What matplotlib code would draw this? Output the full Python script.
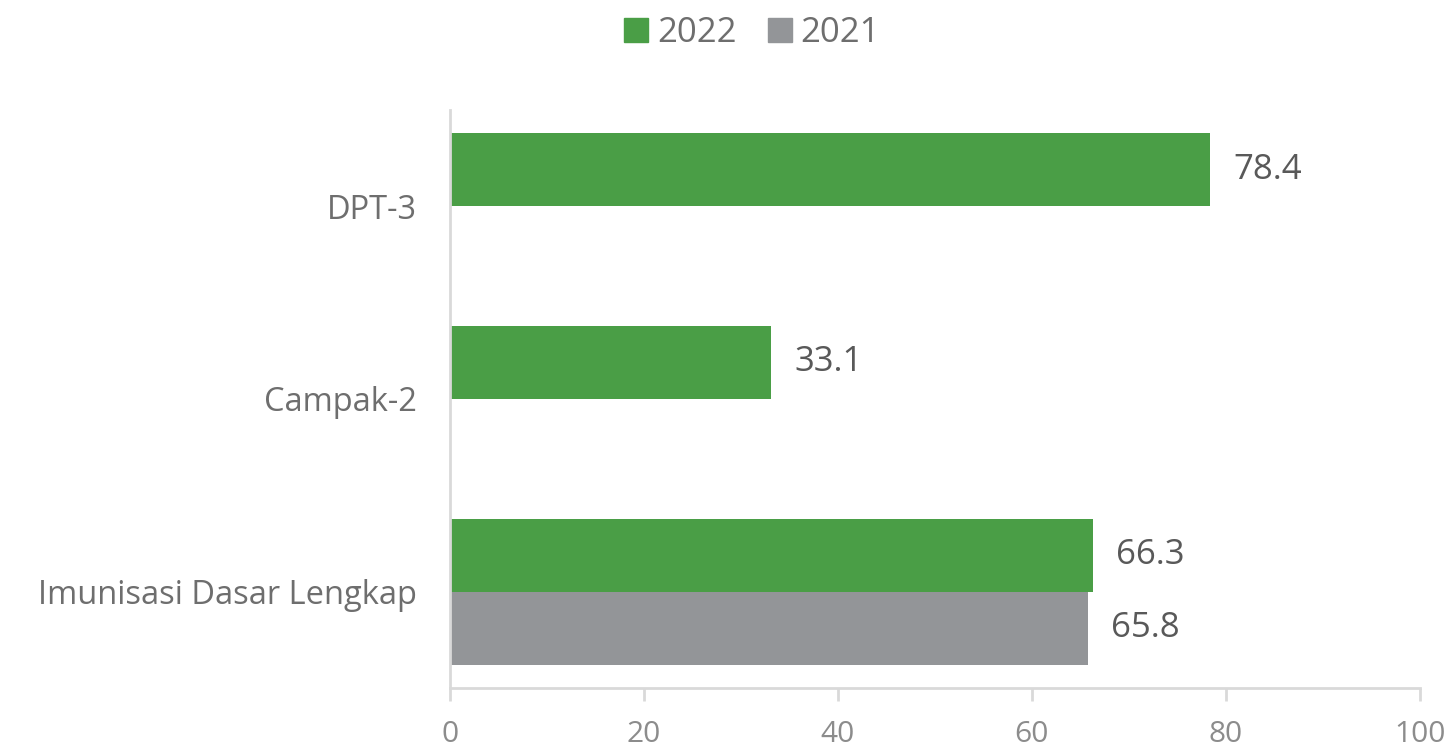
import numpy as np
import matplotlib
matplotlib.use("Agg")
import matplotlib.pyplot as plt
from matplotlib.patches import Patch

plt.rcParams['font.family'] = ['Open Sans', 'DejaVu Sans']

categories = ["Imunisasi Dasar Lengkap", "Campak-2", "DPT-3"]
values_2022 = [66.3, 33.1, 78.4]
values_2021 = [65.8, np.nan, np.nan]
series_names = ["2022", "2021"]
x_ticks = [0, 20, 40, 60, 80, 100]

green = "#4a9e46"
grey = "#939598"

fig = plt.figure(figsize=(14.52, 7.48), dpi=100)
ax = fig.add_axes([0.3099, 0.0802, 0.668, 0.7728])

y = np.arange(len(categories))
h = 0.379

ax.barh(y + h / 2, values_2022, height=h, color=green, edgecolor="none")
ax.barh(y - h / 2, values_2021, height=h, color=grey, edgecolor="none")

# value labels
for yi, v in zip(y, values_2022):
    if not np.isnan(v):
        ax.text(v + 2.4, yi + h / 2, f"{v:.1f}", va="center", ha="left",
                fontsize=25, color="#595959")
for yi, v in zip(y, values_2021):
    if not np.isnan(v):
        ax.text(v + 2.4, yi - h / 2, f"{v:.1f}", va="center", ha="left",
                fontsize=25, color="#595959")

ax.set_xlim(0, 100)
ax.set_ylim(-0.5, 2.5)
ax.set_xticks(x_ticks)
ax.set_xticklabels([str(t) for t in x_ticks], fontsize=21.5, color="#8c8c8c")
ax.set_yticks(y)
ax.set_yticklabels(categories, fontsize=23.5, color="#6e6e6e")

for side in ["top", "right"]:
    ax.spines[side].set_visible(False)
ax.spines["bottom"].set_color("#d9d9d9")
ax.spines["bottom"].set_linewidth(2)
ax.spines["left"].set_color("#d9d9d9")
ax.spines["left"].set_linewidth(2)
ax.tick_params(axis="x", length=9, width=2, color="#d9d9d9", pad=14)
ax.tick_params(axis="y", length=0, pad=24)

handles = [Patch(color=green), Patch(color=grey)]
fig.legend(handles, series_names, loc="center", bbox_to_anchor=(0.518, 0.956),
           ncol=2, frameon=False, fontsize=25, labelcolor="#6e6e6e",
           handlelength=0.7, handleheight=0.7, handletextpad=0.25,
           columnspacing=0.9)

fig.savefig("out.png", dpi=100)
